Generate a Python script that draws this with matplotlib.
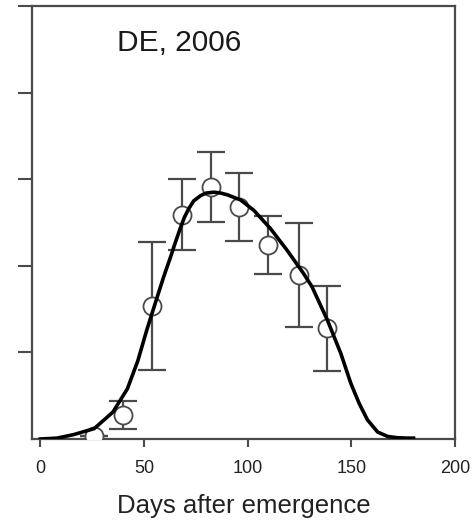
import numpy as np
from matplotlib import pyplot as plt

obs_days = [26, 39.8, 54, 68.1, 82.1, 95.8, 110, 124.8, 138.5]
obs_mean = [0.04, 0.28, 1.54, 2.59, 2.91, 2.68, 2.24, 1.89, 1.28]
obs_err = [0.0, 0.16, 0.74, 0.41, 0.40, 0.39, 0.34, 0.60, 0.49]

# fitted curve
fit_days = [0, 8, 16, 26, 35, 42, 47, 51.5, 55.6, 59.6, 62.8, 65, 67.6, 69.5,
            71.6, 74, 77.3, 80, 83.7, 87, 90.2, 96.6, 103, 111, 119, 127, 131,
            138.5, 144.9, 149.8, 153.8, 157.8, 162.7, 167.5, 172, 177, 180]
fit_vals = [0, 0.01, 0.05, 0.12, 0.31, 0.58, 0.90, 1.27, 1.58, 1.88, 2.10, 2.26,
            2.44, 2.56, 2.66, 2.75, 2.81, 2.84, 2.85, 2.84, 2.82, 2.76, 2.64,
            2.43, 2.18, 1.91, 1.76, 1.37, 0.99, 0.64, 0.41, 0.22, 0.08, 0.03,
            0.015, 0.01, 0.01]

xticks = [0, 50, 100, 150, 200]
yticks = [1, 2, 3, 4, 5]

plt.rcParams['font.family'] = ['Liberation Sans', 'DejaVu Sans']

fig = plt.figure(figsize=(4.74, 5.26), dpi=100)
ax = fig.add_axes([32 / 474, 1 - 439 / 526, (455 - 32) / 474, (439 - 6) / 526])

grey = '#4a4a4a'
ax.errorbar(obs_days, obs_mean, yerr=obs_err, fmt='none', ecolor=grey,
            elinewidth=1.6, capsize=10, capthick=1.6, zorder=2)
ax.plot(obs_days, obs_mean, 'o', ms=13, mfc='white', mec=grey, mew=1.3, zorder=3)
ax.plot(fit_days, fit_vals, color='black', lw=2.6, zorder=4,
        solid_joinstyle='round')

ax.set_xlim(-4, 200)
ax.set_ylim(0, 5)
ax.set_xticks(xticks)
ax.set_yticks(yticks)
ax.set_yticklabels([])
ax.tick_params(axis='y', direction='out', length=10, width=1.5, color=grey)
ax.tick_params(axis='x', direction='out', length=6, width=1.5, color=grey,
               labelsize=13, labelcolor='#222222', pad=9)
for s in ax.spines.values():
    s.set_color(grey)
    s.set_linewidth(1.6)

ax.set_xlabel('Days after emergence', fontsize=18.5, color='#222222', labelpad=12)
ax.text(0.2, 0.915, 'DE, 2006', transform=ax.transAxes, fontsize=21.5,
        color='#1a1a1a', ha='left', va='center')

plt.savefig('out.png', dpi=100)
